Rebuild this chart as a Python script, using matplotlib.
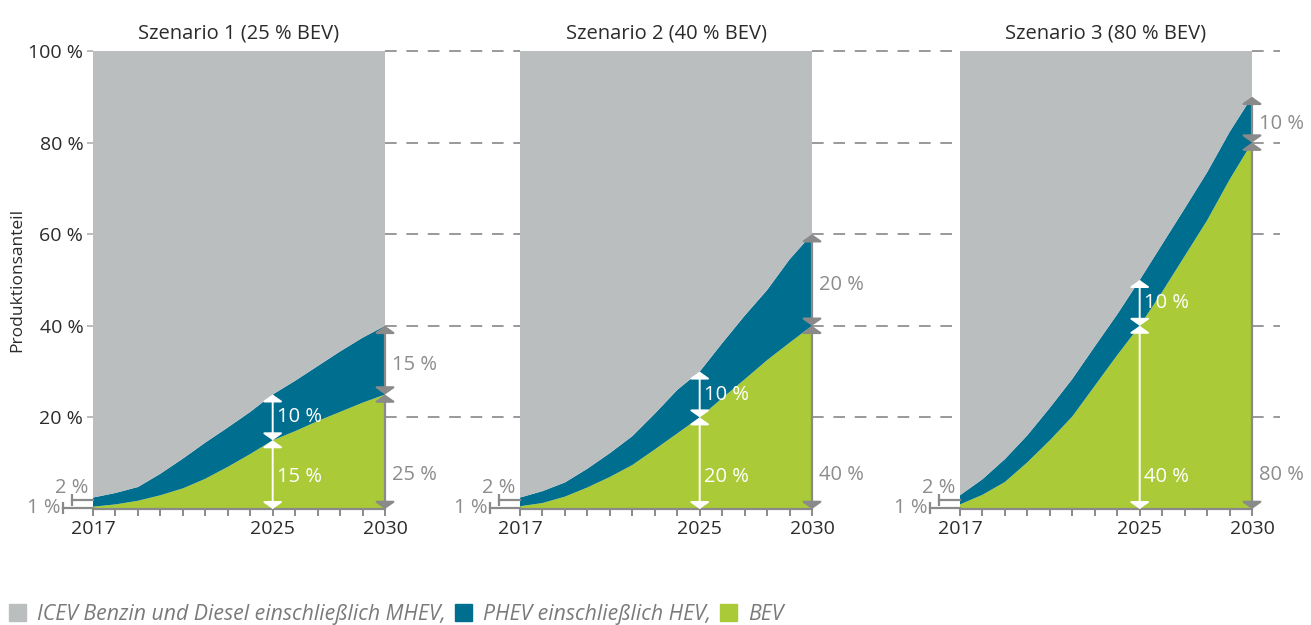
import numpy as np
import matplotlib
matplotlib.use("Agg")
import matplotlib.pyplot as plt
from matplotlib.patches import Patch
from matplotlib.transforms import blended_transform_factory

plt.rcParams['font.family'] = ['Open Sans', 'DejaVu Sans']

# data (production share in %)
years = list(range(2017, 2031))
titles = ["Szenario 1 (25 % BEV)", "Szenario 2 (40 % BEV)", "Szenario 3 (80 % BEV)"]

bev_1 = [0.5, 1.0, 1.8, 3.0, 4.5, 6.6, 9.2, 12.0, 15.0, 17.0, 19.2, 21.2, 23.2, 25.0]
phev_1 = [2.0, 2.5, 3.0, 4.7, 6.5, 7.9, 8.6, 9.2, 10.0, 11.0, 12.0, 13.2, 14.2, 15.0]

bev_2 = [0.6, 1.3, 2.7, 4.7, 7.0, 9.6, 13.0, 16.5, 20.0, 24.2, 28.3, 32.5, 36.3, 40.0]
phev_2 = [1.9, 2.6, 3.1, 4.1, 5.2, 6.3, 7.8, 9.5, 10.0, 12.0, 13.9, 15.3, 18.2, 20.0]

bev_3 = [1.0, 3.1, 5.9, 10.2, 15.0, 20.2, 26.9, 33.6, 40.0, 47.4, 55.2, 63.0, 71.9, 80.0]
phev_3 = [2.0, 3.4, 5.0, 5.9, 7.1, 8.2, 8.6, 8.9, 10.0, 10.4, 10.4, 10.5, 10.4, 10.0]

start_labels = ["1 %", "2 %"]
legend_labels = ["ICEV Benzin und Diesel einschließlich MHEV,", "PHEV einschließlich HEV,", "BEV"]
ytick_vals = [20, 40, 60, 80, 100]
xtick_labels = [2017, 2025, 2030]
mark_year = 2025

c_icev = "#bbbebf"
c_phev = "#006e8f"
c_bev = "#aacb37"
c_axis = "#8a8a8a"
c_text = "#2b2b2b"
c_note = "#8c8c8c"

fig = plt.figure(figsize=(13.11, 6.25), dpi=100)
lefts = [93, 520, 960]
axes = []
for l in lefts:
    axes.append(fig.add_axes([l / 1311, 1 - 509 / 625, 292 / 1311, 458 / 625]))

series = [(bev_1, phev_1), (bev_2, phev_2), (bev_3, phev_3)]

arrow_head = '<|-|>,head_length=0.35,head_width=0.5'

for i, ax in enumerate(axes):
    bev = np.array(series[i][0])
    phev = np.array(series[i][1])
    icev = 100 - bev - phev
    ax.stackplot(years, bev, phev, icev, colors=[c_bev, c_phev, c_icev], linewidth=0)
    ax.set_xlim(2017, 2030)
    ax.set_ylim(0, 100)
    ax.set_title(titles[i], fontsize=14.5, color=c_text, pad=9)

    for s in ['top', 'right', 'left']:
        ax.spines[s].set_visible(False)
    ax.spines['bottom'].set_color(c_axis)
    ax.spines['bottom'].set_linewidth(1.6)
    ax.set_xticks(years)
    ax.set_xticklabels([str(y) if y in xtick_labels else "" for y in years])
    ax.tick_params(axis='x', colors=c_axis, length=5, width=1.4, labelsize=14,
                   labelcolor=c_text, pad=3)
    if i == 0:
        ax.set_yticks(ytick_vals)
        ax.set_yticklabels([f"{v} %" for v in ytick_vals])
        ax.tick_params(axis='y', colors="#b0b0b0", length=4, width=1.2, labelsize=14,
                       labelcolor=c_text, pad=3)
        ax.set_ylabel("Produktionsanteil", fontsize=12.5, color=c_text, labelpad=2)
    else:
        ax.set_yticks([])

    # white arrows at 2025
    k = years.index(mark_year)
    b, t = bev[k], bev[k] + phev[k]
    for y0, y1 in [(0, b), (b, t)]:
        ax.annotate("", xy=(mark_year, y1), xytext=(mark_year, y0),
                    arrowprops=dict(arrowstyle=arrow_head, color="white", lw=1.4,
                                    shrinkA=0, shrinkB=0, mutation_scale=12))
    ax.annotate(f"{bev[k]:.0f} %", xy=(mark_year, 7), xytext=(3, 0), textcoords='offset points',
                color="white", fontsize=14.5, va='center', ha='left')
    ax.annotate(f"{phev[k]:.0f} %", xy=(mark_year, (b + t) / 2), xytext=(3, 0),
                textcoords='offset points', color="white", fontsize=14.5, va='center', ha='left')

    # gray arrows at 2030
    b, t = bev[-1], bev[-1] + phev[-1]
    for y0, y1 in [(0, b), (b, t)]:
        ax.annotate("", xy=(years[-1], y1), xytext=(years[-1], y0), annotation_clip=False,
                    arrowprops=dict(arrowstyle=arrow_head, color=c_axis, lw=1.6,
                                    shrinkA=0, shrinkB=0, mutation_scale=12))
    ax.annotate(f"{bev[-1]:.0f} %", xy=(years[-1], 7.4), xytext=(5, 0), textcoords='offset points',
                color=c_note, fontsize=14.5, va='center', ha='left', annotation_clip=False)
    ax.annotate(f"{phev[-1]:.0f} %", xy=(years[-1], (b + t) / 2 - 1), xytext=(5, 0),
                textcoords='offset points', color=c_note, fontsize=14.5, va='center', ha='left',
                annotation_clip=False)

    # start value brackets
    tr = blended_transform_factory(ax.transAxes, ax.transData)
    ax.plot([-0.103, 0], [0.2, 0.2], color=c_axis, lw=1.6, transform=tr, clip_on=False)
    ax.plot([-0.103], [0.2], marker='|', ms=8, mew=1.6, color=c_axis, transform=tr, clip_on=False)
    ax.plot([-0.072, 0], [2.0, 2.0], color=c_axis, lw=1.6, transform=tr, clip_on=False)
    ax.plot([-0.072], [2.0], marker='|', ms=8, mew=1.6, color=c_axis, transform=tr, clip_on=False)
    ax.text(-0.112, 0.2, start_labels[0], transform=tr, color=c_note, fontsize=14.5,
            ha='right', va='center')
    ax.text(-0.017, 4.6, start_labels[1], transform=tr, color=c_note, fontsize=14.5,
            ha='right', va='center')

# dashed guide lines between panels
p = [ax.get_position() for ax in axes]
segs = [(p[0].x1, p[1].x0), (p[1].x1, p[2].x0), (p[2].x1, p[2].x1 + 28 / 1311)]
trf = blended_transform_factory(fig.transFigure, axes[0].transData)
for lvl in ytick_vals:
    for x0, x1 in segs:
        axes[0].plot([x0, x1], [lvl, lvl], color="#999999", lw=1.4,
                     linestyle=(0, (6, 5)), transform=trf, clip_on=False, zorder=0)

handles = [Patch(color=c_icev), Patch(color=c_phev), Patch(color=c_bev)]
fig.legend(handles, legend_labels, loc='center left', bbox_to_anchor=(0.007, 0.017), ncol=3,
           frameon=False, handlelength=0.8, handleheight=0.8, handletextpad=0.5,
           columnspacing=0.45, borderaxespad=0, borderpad=0,
           prop={'style': 'italic', 'size': 15.3}, labelcolor="#7a7a7a")

fig.savefig("out.png", dpi=100)
